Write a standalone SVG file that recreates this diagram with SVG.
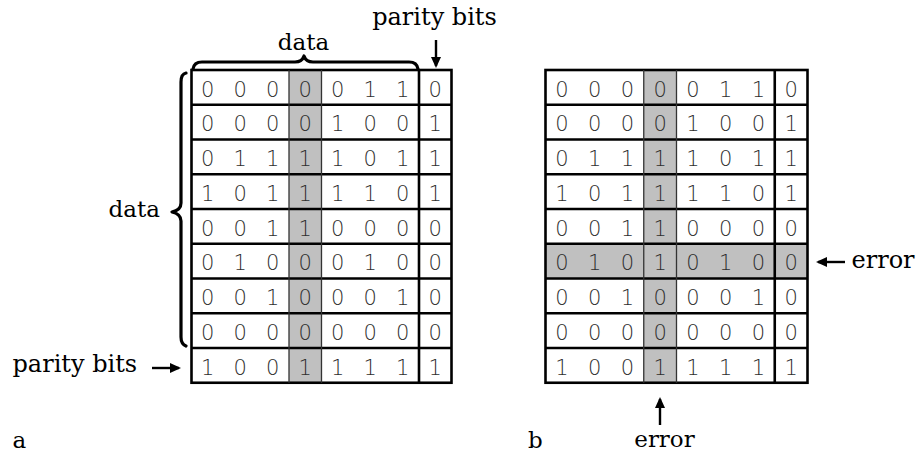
<svg xmlns="http://www.w3.org/2000/svg" width="919" height="457" viewBox="0 0 919 457">
<style>
.lbl{font-family:"DejaVu Serif","Liberation Serif",serif;font-size:23px;fill:#000}
.lbl.w{font-size:24px}
.dg{font-family:"DejaVu Sans","Liberation Sans",sans-serif;font-weight:200;font-size:21px;fill:#2e2e2e;text-anchor:middle}
.shade{fill:#c0c0c0}
.thick{stroke:#000;stroke-width:2.6;fill:none}
.thin{stroke:#333;stroke-width:1.3;fill:none}
.brace{stroke:#000;stroke-width:3.2;fill:none;stroke-linecap:round;stroke-linejoin:round}
.arr{stroke:#000;stroke-width:2.4;fill:none}
</style>
<defs>
<marker id="ah" markerWidth="11" markerHeight="10" refX="9" refY="5" orient="auto" markerUnits="userSpaceOnUse" viewBox="0 0 11 10">
<path d="M0,0 L11,5 L0,10 Z" fill="#000"/>
</marker>
</defs>
<rect width="919" height="457" fill="#fff"/>

<g id="grid-a">
<rect class="shade" x="289" y="70" width="32.5" height="312.75"/>
<rect x="191.5" y="70" width="260" height="312.75" fill="none" class="thick"/>
<path class="thick" d="M191.5,104.75H451.5M191.5,139.5H451.5M191.5,174.25H451.5M191.5,209H451.5M191.5,243.75H451.5M191.5,278.5H451.5M191.5,313.25H451.5M191.5,348H451.5M419,70V382.75"/>
<path class="thin" d="M289,70V382.75M321.5,70V382.75"/>
<text class="dg" x="207.75 240.25 272.75 305.25 337.75 370.25 402.75 435.25" y="96.5">00000110</text>
<text class="dg" x="207.75 240.25 272.75 305.25 337.75 370.25 402.75 435.25" y="131.25">00001001</text>
<text class="dg" x="207.75 240.25 272.75 305.25 337.75 370.25 402.75 435.25" y="166">01111011</text>
<text class="dg" x="207.75 240.25 272.75 305.25 337.75 370.25 402.75 435.25" y="200.75">10111101</text>
<text class="dg" x="207.75 240.25 272.75 305.25 337.75 370.25 402.75 435.25" y="235.5">00110000</text>
<text class="dg" x="207.75 240.25 272.75 305.25 337.75 370.25 402.75 435.25" y="270.25">01000100</text>
<text class="dg" x="207.75 240.25 272.75 305.25 337.75 370.25 402.75 435.25" y="305">00100010</text>
<text class="dg" x="207.75 240.25 272.75 305.25 337.75 370.25 402.75 435.25" y="339.75">00000000</text>
<text class="dg" x="207.75 240.25 272.75 305.25 337.75 370.25 402.75 435.25" y="374.5">10011111</text>
</g>

<g id="grid-b">
<rect class="shade" x="643.75" y="70" width="32.75" height="312.75"/>
<rect class="shade" x="545.5" y="243.75" width="262" height="34.75"/>
<rect x="545.5" y="70" width="262" height="312.75" fill="none" class="thick"/>
<path class="thick" d="M545.5,104.75H807.5M545.5,139.5H807.5M545.5,174.25H807.5M545.5,209H807.5M545.5,243.75H807.5M545.5,278.5H807.5M545.5,313.25H807.5M545.5,348H807.5M774.75,70V382.75"/>
<path class="thin" d="M643.75,70V382.75M676.5,70V382.75"/>
<text class="dg" x="561.9 594.6 627.4 660.1 692.9 725.6 758.4 791.1" y="96.5">00000110</text>
<text class="dg" x="561.9 594.6 627.4 660.1 692.9 725.6 758.4 791.1" y="131.25">00001001</text>
<text class="dg" x="561.9 594.6 627.4 660.1 692.9 725.6 758.4 791.1" y="166">01111011</text>
<text class="dg" x="561.9 594.6 627.4 660.1 692.9 725.6 758.4 791.1" y="200.75">10111101</text>
<text class="dg" x="561.9 594.6 627.4 660.1 692.9 725.6 758.4 791.1" y="235.5">00110000</text>
<text class="dg" x="561.9 594.6 627.4 660.1 692.9 725.6 758.4 791.1" y="270.25">01010100</text>
<text class="dg" x="561.9 594.6 627.4 660.1 692.9 725.6 758.4 791.1" y="305">00100010</text>
<text class="dg" x="561.9 594.6 627.4 660.1 692.9 725.6 758.4 791.1" y="339.75">00000000</text>
<text class="dg" x="561.9 594.6 627.4 660.1 692.9 725.6 758.4 791.1" y="374.5">10011111</text>
</g>

<g id="labels">
<text id="lbl-data-top" class="lbl" x="303.5" y="50" text-anchor="middle">data</text>
<text id="lbl-parity-top" class="lbl w" x="434.5" y="25" text-anchor="middle">parity bits</text>
<text id="lbl-data-left" class="lbl" x="160" y="217" text-anchor="end">data</text>
<text id="lbl-parity-left" class="lbl w" x="12.5" y="372">parity bits</text>
<text id="lbl-a" class="lbl" x="12.5" y="448">a</text>
<text id="lbl-b" class="lbl" x="528" y="448">b</text>
<text id="lbl-error-right" class="lbl w" x="851.5" y="268">error</text>
<text id="lbl-error-bottom" class="lbl" x="664.5" y="447" text-anchor="middle">error</text>
</g>

<g id="connectors">
<path class="brace" d="M193,69 Q194,62 202,62 L295,62 Q302,62 304,56 Q306,62 313,62 L409,62 Q417,62 418,69"/>
<path class="brace" d="M186,73 Q181,74 181,82 L181,203 Q181,210 172,212 Q181,214 181,221 L181,337 Q181,344 186,346"/>
<line class="arr" x1="436" y1="40" x2="436" y2="66" marker-end="url(#ah)"/>
<line class="arr" x1="152" y1="368" x2="179" y2="368" marker-end="url(#ah)"/>
<line class="arr" x1="845" y1="262" x2="818" y2="262" marker-end="url(#ah)"/>
<line class="arr" x1="660" y1="425" x2="660" y2="399" marker-end="url(#ah)"/>
</g>
</svg>
